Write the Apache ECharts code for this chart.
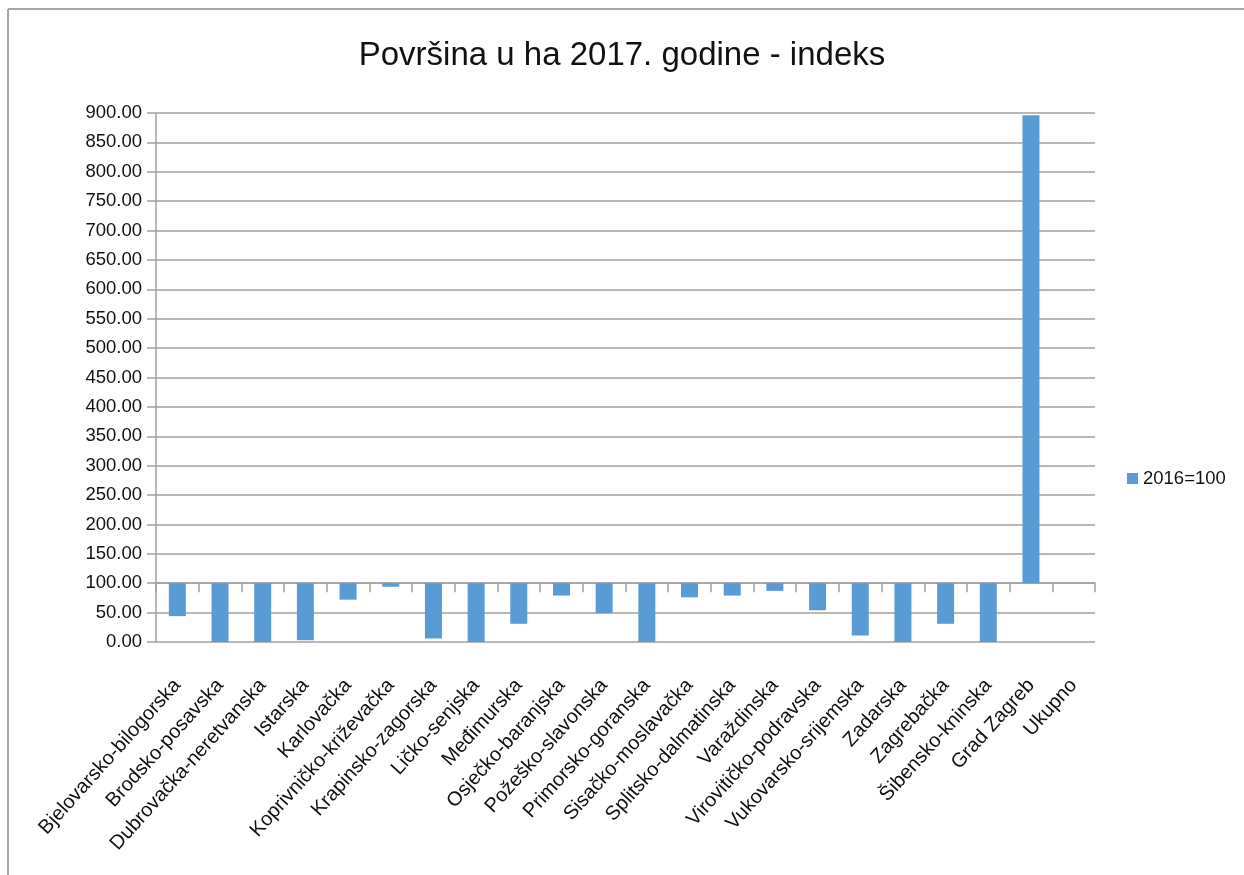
<!DOCTYPE html>
<html>
<head>
<meta charset="utf-8">
<script src="https://cdn.jsdelivr.net/npm/echarts@6/dist/echarts.min.js"></script>
<style>
html,body{margin:0;padding:0;background:#fff;}
#chart{width:1244px;height:875px;}
</style>
</head>
<body>
<div id="chart"></div>
<script>
var categories = ["Bjelovarsko-bilogorska","Brodsko-posavska","Dubrovačka-neretvanska","Istarska","Karlovačka","Koprivničko-križevačka","Krapinsko-zagorska","Ličko-senjska","Međimurska","Osječko-baranjska","Požeško-slavonska","Primorsko-goranska","Sisačko-moslavačka","Splitsko-dalmatinska","Varaždinska","Virovitičko-podravska","Vukovarsko-srijemska","Zadarska","Zagrebačka","Šibensko-kninska","Grad Zagreb","Ukupno"];
var indexValues = [44,0,0,3,72,94,6,0,31,79,49,0,76,79,87,54,11,0,31,0,896,100];
var seriesName = "2016=100";
var titleText = "Površina u ha 2017. godine - indeks";
var baseValue = 100;

var font = "'Liberation Sans', Arial, sans-serif";
var chart = echarts.init(document.getElementById('chart'));
chart.setOption({
  animation:false,
  backgroundColor:'#fff',
  title:{text:titleText,left:'center',top:34,textStyle:{fontFamily:font,fontSize:33,fontWeight:'normal',color:'#111'}},
  legend:{data:[seriesName],left:1122,top:464,icon:'rect',itemWidth:11,itemHeight:11,itemGap:8,
    textStyle:{fontFamily:font,fontSize:18.5,color:'#111'}},
  grid:{left:156,right:149,top:113,bottom:233,containLabel:false},
  xAxis:[{
    type:'category',data:categories,
    axisLine:{show:true,onZero:true,lineStyle:{color:'#A0A0A0',width:1.5}},
    axisTick:{show:true,interval:0,length:9,lineStyle:{color:'#A0A0A0',width:1.5}},
    axisLabel:{show:false}
  },{
    type:'category',data:categories,position:'bottom',
    axisLine:{show:false,onZero:false},axisTick:{show:false},
    axisLabel:{show:true,rotate:48,margin:40,interval:0,fontFamily:font,fontSize:20,color:'#111'}
  }],
  yAxis:{
    type:'value',min:-100,max:800,interval:50,
    axisLine:{show:true,lineStyle:{color:'#A0A0A0',width:1.5}},
    axisTick:{show:true,length:9,lineStyle:{color:'#A0A0A0',width:1.5}},
    splitLine:{show:true,lineStyle:{color:'#A0A0A0',width:1.5}},
    axisLabel:{margin:14,fontFamily:font,fontSize:18.5,color:'#111',formatter:function(v){return (v+baseValue).toFixed(2);}}
  },
  graphic:[
    {type:'line',shape:{x1:8,y1:9,x2:1244,y2:9},style:{stroke:'#A6A6A6',lineWidth:2}},
    {type:'line',shape:{x1:8,y1:9,x2:8,y2:875},style:{stroke:'#A6A6A6',lineWidth:2}}
  ],
  series:[{
    name:seriesName,type:'bar',xAxisIndex:0,barWidth:17,
    itemStyle:{color:'#5B9BD5'},
    data:indexValues.map(function(v){return v-baseValue;})
  }]
});
</script>
</body>
</html>
